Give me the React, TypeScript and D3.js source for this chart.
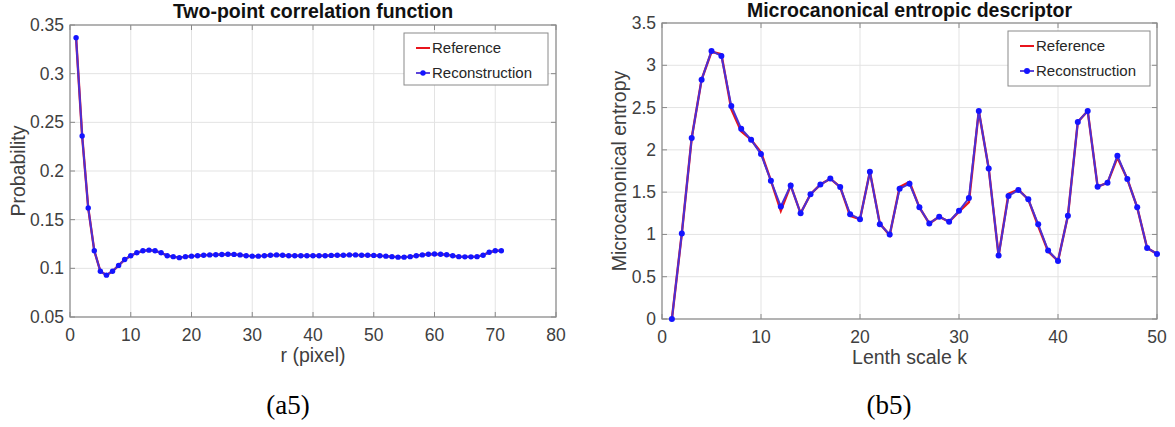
import React from "react";
import * as d3 from "d3";

// ---------- Data ----------
const probRecon = [
  0.337, 0.236, 0.162, 0.118, 0.097, 0.093, 0.097, 0.103, 0.109, 0.113,
  0.116, 0.118, 0.1187, 0.118, 0.116, 0.113, 0.112, 0.111, 0.112, 0.1125,
  0.113, 0.1135, 0.1138, 0.114, 0.1142, 0.1145, 0.1143, 0.1138, 0.113, 0.1125,
  0.1125, 0.113, 0.1135, 0.1138, 0.1135, 0.113, 0.113, 0.113, 0.113, 0.113,
  0.113, 0.113, 0.1133, 0.1135, 0.1135, 0.1138, 0.1138, 0.1135, 0.1135, 0.1133,
  0.113, 0.1125, 0.112, 0.1115, 0.1115, 0.112, 0.113, 0.1138, 0.1145, 0.1148,
  0.1145, 0.114, 0.113, 0.112, 0.1118, 0.1118, 0.112, 0.1135, 0.1165, 0.118,
  0.118,
];
const probRef = [
  0.337, 0.236, 0.162, 0.118, 0.097, 0.093, 0.097, 0.103, 0.109, 0.113,
  0.116, 0.118, 0.1187, 0.118, 0.116, 0.113, 0.112, 0.111, 0.112, 0.1125,
  0.113, 0.1135, 0.1138, 0.114, 0.1142, 0.1145, 0.1143, 0.1138, 0.113, 0.1125,
  0.1125, 0.113, 0.1135, 0.1138, 0.1135, 0.113, 0.113, 0.113, 0.113, 0.113,
  0.113, 0.113, 0.1133, 0.1135, 0.1135, 0.1138, 0.1138, 0.1135, 0.1135, 0.1133,
  0.113, 0.1125, 0.112, 0.1115, 0.1115, 0.112, 0.113, 0.1138, 0.1145, 0.1148,
  0.1145, 0.114, 0.113, 0.112, 0.1118, 0.1118, 0.112, 0.1135, 0.1165, 0.118,
  0.118,
];
const entropyRecon = [
  0, 1.01, 2.14, 2.83, 3.17, 3.11, 2.52, 2.25, 2.12, 1.95,
  1.635, 1.33, 1.58, 1.25, 1.475, 1.59, 1.66, 1.56, 1.24, 1.18,
  1.74, 1.12, 1.0, 1.54, 1.6, 1.32, 1.13, 1.21, 1.15, 1.28,
  1.43, 2.46, 1.78, 0.75, 1.455, 1.525, 1.415, 1.12, 0.81, 0.686,
  1.22, 2.33, 2.46, 1.565, 1.61, 1.93, 1.655, 1.32, 0.84, 0.77,
];
const entropyRef = [
  0, 1.01, 2.14, 2.83, 3.16, 3.13, 2.48, 2.22, 2.12, 1.97,
  1.635, 1.28, 1.58, 1.25, 1.475, 1.59, 1.66, 1.56, 1.22, 1.18,
  1.74, 1.13, 0.99, 1.56, 1.62, 1.32, 1.13, 1.21, 1.15, 1.27,
  1.38, 2.46, 1.78, 0.75, 1.48, 1.53, 1.415, 1.1, 0.8, 0.686,
  1.22, 2.33, 2.46, 1.565, 1.61, 1.91, 1.655, 1.32, 0.84, 0.77,
];
const leftXTicks = [0, 10, 20, 30, 40, 50, 60, 70, 80];
const leftYTicks = [0.05, 0.1, 0.15, 0.2, 0.25, 0.3, 0.35];
const rightXTicks = [0, 10, 20, 30, 40, 50];
const rightYTicks = [0, 0.5, 1, 1.5, 2, 2.5, 3, 3.5];
const legendLabels = ["Reference", "Reconstruction"];

const FONT = "'Liberation Sans', Arial, sans-serif";
const RED = "#e8141c";
const BLUE = "#1414ff";
const LINE = "#4a30d6";

type PanelProps = {
  x0: number; x1: number; y0: number; y1: number;
  xDomain: [number, number]; yDomain: [number, number];
  xTicks: number[]; yTicks: number[];
  refVals: number[]; recVals: number[];
  title: string; titleY: number; xLabel: string; yLabel: string; yLabelX: number;
  legendBox: [number, number, number, number];
  caption: string; captionX: number;
  markerR: number; fmtY: (v: number) => string;
};

function Panel(p: PanelProps) {
  const xs = d3.scaleLinear().domain(p.xDomain).range([p.x0, p.x1]);
  const ys = d3.scaleLinear().domain(p.yDomain).range([p.y1, p.y0]);
  const line = d3.line<number>().x((_, i) => xs(i + 1)).y((d) => ys(d));
  const [lx, ly, lw, lh] = p.legendBox;
  const tickLen = 5;
  return (
    <g>
      {p.xTicks.map((t) => (
        <line key={"gx" + t} x1={xs(t)} x2={xs(t)} y1={p.y0} y2={p.y1} stroke="#e3e3e3" strokeWidth={1} />
      ))}
      {p.yTicks.map((t) => (
        <line key={"gy" + t} x1={p.x0} x2={p.x1} y1={ys(t)} y2={ys(t)} stroke="#e3e3e3" strokeWidth={1} />
      ))}
      <rect x={p.x0} y={p.y0} width={p.x1 - p.x0} height={p.y1 - p.y0} fill="none" stroke="#8a8a8a" strokeWidth={1.2} />
      {p.xTicks.map((t) => (
        <g key={"tx" + t}>
          <line x1={xs(t)} x2={xs(t)} y1={p.y1} y2={p.y1 - tickLen} stroke="#8a8a8a" />
          <line x1={xs(t)} x2={xs(t)} y1={p.y0} y2={p.y0 + tickLen} stroke="#8a8a8a" />
          <text x={xs(t)} y={p.y1 + 24} textAnchor="middle" fontFamily={FONT} fontSize={17.5} fill="#404040">{t}</text>
        </g>
      ))}
      {p.yTicks.map((t) => (
        <g key={"ty" + t}>
          <line x1={p.x0} x2={p.x0 + tickLen} y1={ys(t)} y2={ys(t)} stroke="#8a8a8a" />
          <line x1={p.x1} x2={p.x1 - tickLen} y1={ys(t)} y2={ys(t)} stroke="#8a8a8a" />
          <text x={p.x0 - 6} y={ys(t) + 6} textAnchor="end" fontFamily={FONT} fontSize={17.5} fill="#404040">{p.fmtY(t)}</text>
        </g>
      ))}
      <path d={line(p.refVals) || ""} fill="none" stroke={RED} strokeWidth={2.4} />
      <path d={line(p.recVals) || ""} fill="none" stroke={LINE} strokeWidth={2} />
      {p.recVals.map((v, i) => (
        <circle key={"m" + i} cx={xs(i + 1)} cy={ys(v)} r={p.markerR} fill={BLUE} />
      ))}
      <text x={(p.x0 + p.x1) / 2} y={p.titleY} textAnchor="middle" fontFamily={FONT} fontWeight="bold" fontSize={19.5} fill="#111">{p.title}</text>
      <text x={(p.x0 + p.x1) / 2} y={p.y1 + 45} textAnchor="middle" fontFamily={FONT} fontSize={19.5} fill="#404040">{p.xLabel}</text>
      <text transform={`translate(${p.yLabelX},${(p.y0 + p.y1) / 2}) rotate(-90)`} textAnchor="middle" fontFamily={FONT} fontSize={19.5} fill="#404040">{p.yLabel}</text>
      <rect x={lx} y={ly} width={lw} height={lh} fill="#fff" stroke="#8a8a8a" strokeWidth={1} />
      <line x1={lx + 12} x2={lx + 26} y1={ly + 15} y2={ly + 15} stroke={RED} strokeWidth={2} />
      <text x={lx + 28} y={ly + 20} fontFamily={FONT} fontSize={15} fill="#262626">{legendLabels[0]}</text>
      <line x1={lx + 12} x2={lx + 26} y1={ly + 40} y2={ly + 40} stroke={LINE} strokeWidth={1.8} />
      <circle cx={lx + 19} cy={ly + 40} r={p.markerR} fill={BLUE} />
      <text x={lx + 28} y={ly + 45} fontFamily={FONT} fontSize={15} fill="#262626">{legendLabels[1]}</text>
      <text x={p.captionX} y={414} textAnchor="middle" fontFamily="'Liberation Serif', 'Times New Roman', serif" fontSize={27} fill="#000">{p.caption}</text>
    </g>
  );
}

export default function App() {
  return (
    <svg width={1175} height={427} style={{ position: "absolute", left: 0, top: 0, background: "#fff" }}>
      <rect width={1175} height={427} fill="#fff" />
      <Panel
        x0={70} x1={556} y0={25} y1={317}
        xDomain={[0, 80]} yDomain={[0.05, 0.35]}
        xTicks={leftXTicks} yTicks={leftYTicks}
        refVals={probRef} recVals={probRecon}
        title="Two-point correlation function" titleY={18} xLabel="r (pixel)" yLabel="Probability" yLabelX={25}
        legendBox={[404, 33, 144, 52]}
        caption="(a5)" captionX={288}
        markerR={2.7}
        fmtY={(v) => String(+v.toFixed(2))}
      />
      <Panel
        x0={662} x1={1157} y0={23} y1={319}
        xDomain={[0, 50]} yDomain={[0, 3.5]}
        xTicks={rightXTicks} yTicks={rightYTicks}
        refVals={entropyRef} recVals={entropyRecon}
        title="Microcanonical entropic descriptor" titleY={17} xLabel="Lenth scale k" yLabel="Microcanonical entropy" yLabelX={626}
        legendBox={[1008, 31, 142, 55]}
        caption="(b5)" captionX={889}
        markerR={3}
        fmtY={(v) => String(+v.toFixed(1))}
      />
    </svg>
  );
}
